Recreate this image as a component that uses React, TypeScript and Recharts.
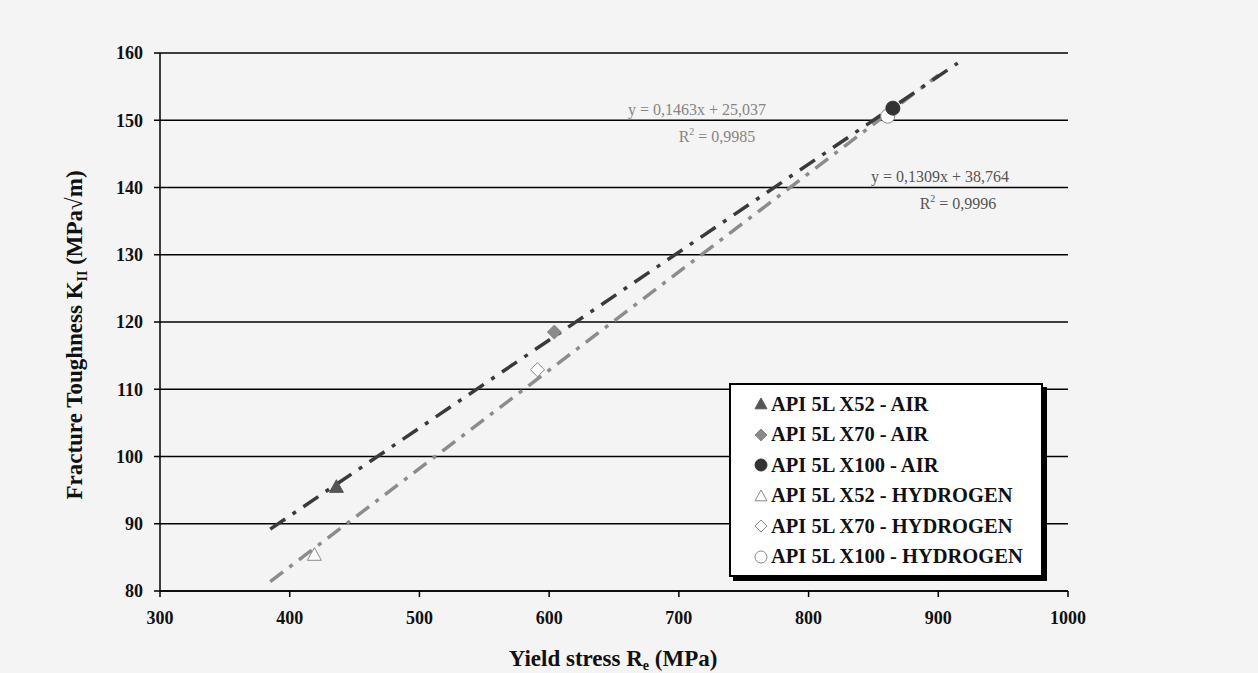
import React from 'react';
import { ScatterChart, Scatter, XAxis, YAxis, CartesianGrid } from 'recharts';

// measured points (yield stress MPa, toughness MPa√m)
const x52Air = [{ x: 436, y: 95.5 }];
const x70Air = [{ x: 604, y: 118.5 }];
const x100Air = [{ x: 865, y: 151.8 }];
const x52H2 = [{ x: 419, y: 85.4 }];
const x70H2 = [{ x: 591, y: 112.9 }];
const x100H2 = [{ x: 861, y: 150.6 }];

// trend line end points
const airTrend = [{ x: 385, y: 89.2 }, { x: 915, y: 158.5 }];
const h2Trend = [{ x: 385, y: 81.4 }, { x: 900, y: 156.7 }];

const xTicks = [300, 400, 500, 600, 700, 800, 900, 1000];
const yTicks = [80, 90, 100, 110, 120, 130, 140, 150, 160];

const legendItems = [
  { name: 'API 5L X52 - AIR', kind: 'triangle', fill: '#555', stroke: '#555' },
  { name: 'API 5L X70 - AIR', kind: 'diamond', fill: '#8a8a8a', stroke: '#8a8a8a' },
  { name: 'API 5L X100 - AIR', kind: 'circle', fill: '#333', stroke: '#333' },
  { name: 'API 5L X52 - HYDROGEN', kind: 'triangle', fill: '#fff', stroke: '#888' },
  { name: 'API 5L X70 - HYDROGEN', kind: 'diamond', fill: '#fff', stroke: '#888' },
  { name: 'API 5L X100 - HYDROGEN', kind: 'circle', fill: '#fff', stroke: '#888' },
];

const FONT = '"Liberation Serif", "DejaVu Serif", serif';

const Marker = ({ kind, cx, cy, fill, stroke, r = 6 }: any) => {
  if (kind === 'triangle') {
    const p = `${cx},${cy - r} ${cx + r},${cy + r * 0.8} ${cx - r},${cy + r * 0.8}`;
    return <polygon points={p} fill={fill} stroke={stroke} strokeWidth={1} />;
  }
  if (kind === 'diamond') {
    const p = `${cx},${cy - r} ${cx + r},${cy} ${cx},${cy + r} ${cx - r},${cy}`;
    return <polygon points={p} fill={fill} stroke={stroke} strokeWidth={1} />;
  }
  return <circle cx={cx} cy={cy} r={r} fill={fill} stroke={stroke} strokeWidth={1} />;
};

const shapeOf = (item: any, r = 7) => (props: any) => (
  <Marker kind={item.kind} cx={props.cx} cy={props.cy} fill={item.fill} stroke={item.stroke} r={r} />
);

const LegendBox = () => (
  <div
    style={{
      position: 'absolute',
      left: 729,
      top: 383,
      background: '#fff',
      border: '2px solid #000',
      boxShadow: '4px 4px 0 #000',
      width: 314,
      height: 194,
      padding: '4px 0 4px 22px',
      boxSizing: 'border-box',
      fontFamily: FONT,
      fontWeight: 'bold',
      fontSize: 20.5,
      color: '#111',
      whiteSpace: 'nowrap',
    }}
  >
    {legendItems.map((it) => (
      <div key={it.name} style={{ display: 'flex', alignItems: 'center', height: 30.5 }}>
        <svg width={16} height={16} style={{ marginRight: 2 }}>
          <Marker kind={it.kind} cx={8} cy={8} r={6} fill={it.fill} stroke={it.stroke} />
        </svg>
        <span>{it.name}</span>
      </div>
    ))}
  </div>
);

const YLabel = () => (
  <text
    x={0}
    y={0}
    transform="translate(82,335) rotate(-90)"
    textAnchor="middle"
    fontFamily={FONT}
    fontWeight="bold"
    fontSize={23}
    fill="#111"
  >
    Fracture Toughness K
    <tspan fontSize={14} dy={5}>II</tspan>
    <tspan dy={-5}> (MPa√m)</tspan>
  </text>
);

const XLabel = () => (
  <text x={613} y={666} textAnchor="middle" fontFamily={FONT} fontWeight="bold" fontSize={23} fill="#111">
    Yield stress R
    <tspan fontSize={14} dy={4}>e</tspan>
    <tspan dy={-4}> (MPa)</tspan>
  </text>
);

const tickStyle = { fontFamily: FONT, fontWeight: 'bold', fontSize: 18, fill: '#111' };

export default function App() {
  return (
    <div style={{ width: 1258, height: 673, background: '#f4f4f4', position: 'relative' }}>
      <style>{`body{margin:0}`}</style>
      <ScatterChart width={1258} height={673} margin={{ top: 53, right: 190, left: 100, bottom: 42 }}>
        <CartesianGrid horizontal vertical={false} stroke="#000" strokeWidth={1.5} />
        <XAxis
          type="number"
          dataKey="x"
          domain={[300, 1000]}
          ticks={xTicks}
          tick={tickStyle}
          tickSize={6}
          tickMargin={14}
          height={40}
          stroke="#000"
          strokeWidth={1.5}
          allowDataOverflow
        />
        <YAxis
          type="number"
          dataKey="y"
          domain={[80, 160]}
          ticks={yTicks}
          tick={tickStyle}
          tickSize={6}
          tickMargin={11}
          width={60}
          stroke="#000"
          strokeWidth={1.5}
          allowDataOverflow
        />
        <Scatter
          data={h2Trend}
          line={{ stroke: '#8c8c8c', strokeWidth: 3.5, strokeDasharray: '16 8 4 8' }}
          shape={() => null}
          isAnimationActive={false}
          legendType="none"
        />
        <Scatter
          data={airTrend}
          line={{ stroke: '#3a3a3a', strokeWidth: 3.5, strokeDasharray: '18 9 4 9' }}
          shape={() => null}
          isAnimationActive={false}
          legendType="none"
        />
        <Scatter data={x52H2} shape={shapeOf(legendItems[3])} isAnimationActive={false} />
        <Scatter data={x70H2} shape={shapeOf(legendItems[4])} isAnimationActive={false} />
        <Scatter data={x100H2} shape={shapeOf(legendItems[5])} isAnimationActive={false} />
        <Scatter data={x52Air} shape={shapeOf(legendItems[0])} isAnimationActive={false} />
        <Scatter data={x70Air} shape={shapeOf(legendItems[1])} isAnimationActive={false} />
        <Scatter data={x100Air} shape={shapeOf(legendItems[2])} isAnimationActive={false} />
        <text x={697} y={115} textAnchor="middle" fontFamily={FONT} fontSize={16} fill="#858585">
          y = 0,1463x + 25,037
        </text>
        <text x={717} y={142} textAnchor="middle" fontFamily={FONT} fontSize={16} fill="#858585">
          R<tspan fontSize={10} dy={-7}>2</tspan><tspan dy={7}> = 0,9985</tspan>
        </text>
        <text x={940} y={182} textAnchor="middle" fontFamily={FONT} fontSize={16} fill="#555">
          y = 0,1309x + 38,764
        </text>
        <text x={958} y={209} textAnchor="middle" fontFamily={FONT} fontSize={16} fill="#555">
          R<tspan fontSize={10} dy={-7}>2</tspan><tspan dy={7}> = 0,9996</tspan>
        </text>
        <YLabel />
        <XLabel />
      </ScatterChart>
      <LegendBox />
    </div>
  );
}
